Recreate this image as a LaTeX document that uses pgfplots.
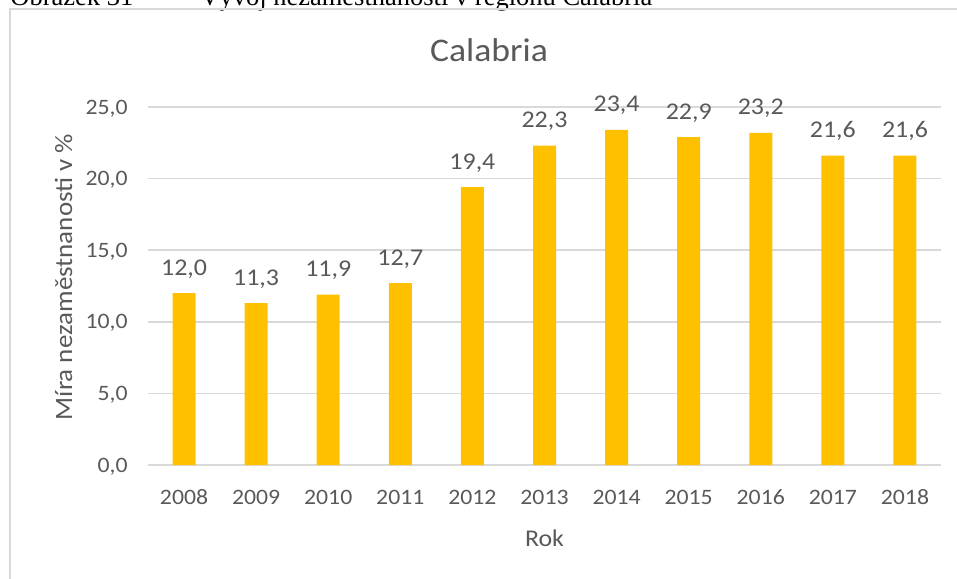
\documentclass[border=0pt]{standalone}
\usepackage{fontspec}
\setmainfont{Carlito}[FakeStretch=1.08]
\newfontfamily\capfont{Liberation Serif}
\usepackage{pgfplots}
\pgfplotsset{compat=1.18}
\definecolor{bargold}{HTML}{FFC000}
\definecolor{txt}{HTML}{595959}
\definecolor{gridc}{HTML}{D9D9D9}
\begin{document}
\begin{tikzpicture}
\clip (0,0) rectangle (478.5pt,289pt);
\node[anchor=base west, inner sep=0pt, font=\capfont\fontsize{13.25}{15}\selectfont] at (5pt,286pt) {Obrázek 31};
\node[anchor=base west, inner sep=0pt, font=\capfont\fontsize{13.25}{15}\selectfont] at (100pt,286pt) {Vývoj nezaměstnanosti v regionu Calabria};
\draw[gridc, line width=0.75pt] (5pt,-2pt) -- (5pt,284.5pt) -- (482pt,284.5pt);
\begin{axis}[
  at={(74pt,56.5pt)}, anchor=south west,
  scale only axis, width=396.5pt, height=179pt,
  xmin=-0.5, xmax=10.5, ymin=0, ymax=25,
  ybar, bar width=11.5pt,
  axis line style={draw=none},
  ytick={0,5,10,15,20,25},
  xtick=data,
  xticklabels={2008,2009,2010,2011,2012,2013,2014,2015,2016,2017,2018},
  major tick length=0pt,
  ymajorgrids, major grid style={gridc, line width=0.75pt},
  tick label style={font=\fontsize{11}{13}\selectfont, text=txt, inner sep=0pt},
  yticklabel style={anchor=base east, xshift=-10pt, yshift=-3.5pt},
  xticklabel style={anchor=base, yshift=-19.5pt},
  /pgf/number format/.cd, use comma, fixed, fixed zerofill, precision=1, assume math mode=true, /pgfplots/.cd,
  nodes near coords,
  every node near coord/.append style={font=\fontsize{12}{14}\selectfont, text=txt, anchor=base, inner sep=0pt, yshift=9pt},
  clip=false,
]
\addplot[fill=bargold, draw=none] coordinates {(0,12.0) (1,11.3) (2,11.9) (3,12.7) (4,19.4) (5,22.3) (6,23.4) (7,22.9) (8,23.2) (9,21.6) (10,21.6)};
\end{axis}
\node[anchor=base, inner sep=0pt, text=txt, font=\fontsize{16.5}{19}\selectfont] at (244.5pt,258pt) {Calabria};
\node[anchor=base, inner sep=0pt, text=txt, rotate=90, font=\fontsize{12.5}{15}\selectfont] at (36pt,150.5pt) {Míra nezaměstnanosti v \%};
\node[anchor=base, inner sep=0pt, text=txt, font=\fontsize{12}{14}\selectfont] at (272.25pt,16pt) {Rok};
\end{tikzpicture}
\end{document}
